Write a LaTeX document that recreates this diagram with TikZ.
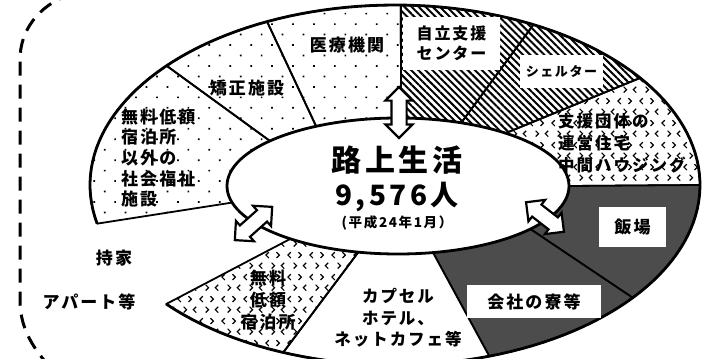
\documentclass[tikz,border=0pt]{standalone}
\usepackage{fontspec}
\newfontfamily\jpfont{Noto Sans CJK JP}[LetterSpace=12]
\usetikzlibrary{shapes.arrows, shapes.geometric, patterns, patterns.meta}

% small "<" and ">" marks used as fill
\pgfdeclarepatternformonly{chevrons}{\pgfqpoint{0pt}{0pt}}{\pgfqpoint{22pt}{22pt}}{\pgfqpoint{22pt}{22pt}}{%
  \pgfsetlinewidth{1.2pt}%
  \pgfpathmoveto{\pgfqpoint{5pt}{19.5pt}}\pgfpathlineto{\pgfqpoint{2pt}{16.5pt}}\pgfpathlineto{\pgfqpoint{5pt}{13.5pt}}%
  \pgfpathmoveto{\pgfqpoint{13pt}{19.5pt}}\pgfpathlineto{\pgfqpoint{16pt}{16.5pt}}\pgfpathlineto{\pgfqpoint{13pt}{13.5pt}}%
  \pgfpathmoveto{\pgfqpoint{8pt}{8.5pt}}\pgfpathlineto{\pgfqpoint{11pt}{5.5pt}}\pgfpathlineto{\pgfqpoint{8pt}{2.5pt}}%
  \pgfpathmoveto{\pgfqpoint{21pt}{8.5pt}}\pgfpathlineto{\pgfqpoint{18pt}{5.5pt}}\pgfpathlineto{\pgfqpoint{21pt}{2.5pt}}%
  \pgfusepath{stroke}%
}

\begin{document}
\begin{tikzpicture}[
    x=1pt, y=-1pt,
    font=\jpfont\bfseries,
    % Fill styles
    dotfill/.style={pattern={Dots[distance=14.8pt, angle=45, radius=1.2pt]}},
    hatchfill/.style={pattern={Lines[angle=-45, distance=5pt, line width=2pt]}},
    chevfill/.style={pattern=chevrons},
    darkfill/.style={fill=black!70},
    % Line styles
    sec_line/.style={draw=black, line width=1.8pt, line join=round},
    rim_line/.style={draw=black, line width=2.8pt},
    arc_pts/.style={variable=\t, samples=40},
    outline_dash/.style={line width=3pt, dash pattern=on 14pt off 9pt},
    % Text styles
    txt/.style={inner sep=0pt, align=center, font=\jpfont\bfseries\fontsize{17}{21}\selectfont},
    white_tag/.style={txt, fill=white},
    dbl_arrow/.style={
        double arrow, draw=black, fill=white, line width=2.2pt,
        minimum height=50pt, inner xsep=0pt, inner ysep=6.5pt,
        double arrow head extend=6pt
    }
]

\useasboundingbox (0,0) rectangle (702,359);

% --- Dashed outer boundary ---
\draw[outline_dash] (72,-6) .. controls (45,2) and (20,25) .. (20,60) -- (20,300)
    .. controls (20,325) and (30,345) .. (50,367);

% =================================================================
% RING OF SECTORS
% =================================================================

% --- welfare facilities (left) ---
\path[dotfill, sec_line] plot[arc_pts, domain=167.6:221.5] ({395+305*cos(\t)}, {185+180*sin(\t)})
    -- plot[arc_pts, domain=221.5:165.9] ({398+171*cos(\t)}, {186+68*sin(\t)}) -- cycle;
% --- prison ---
\path[dotfill, sec_line] plot[arc_pts, domain=221.5:245.2] ({395+305*cos(\t)}, {185+180*sin(\t)})
    -- plot[arc_pts, domain=241.4:221.5] ({398+171*cos(\t)}, {186+68*sin(\t)}) -- cycle;
% --- hospital ---
\path[dotfill, sec_line] plot[arc_pts, domain=245.2:271.1] ({395+305*cos(\t)}, {185+180*sin(\t)})
    -- plot[arc_pts, domain=271:241.4] ({398+171*cos(\t)}, {186+68*sin(\t)}) -- cycle;
% --- support centre ---
\path[hatchfill, sec_line] plot[arc_pts, domain=271.1:297] ({395+305*cos(\t)}, {185+180*sin(\t)})
    -- plot[arc_pts, domain=291.7:271] ({398+171*cos(\t)}, {186+68*sin(\t)}) -- cycle;
% --- shelter ---
\path[hatchfill, sec_line] plot[arc_pts, domain=297:323.5] ({395+305*cos(\t)}, {185+180*sin(\t)})
    -- plot[arc_pts, domain=309:291.7] ({398+171*cos(\t)}, {186+68*sin(\t)}) -- cycle;
% --- group housing ---
\path[chevfill, sec_line] plot[arc_pts, domain=323.5:360] ({395+305*cos(\t)}, {185+180*sin(\t)})
    -- plot[arc_pts, domain=360:309] ({398+171*cos(\t)}, {186+68*sin(\t)}) -- cycle;
% --- work camp ---
\path[darkfill, sec_line] plot[arc_pts, domain=360:398.8] ({395+305*cos(\t)}, {185+180*sin(\t)})
    -- plot[arc_pts, domain=399.3:360] ({398+171*cos(\t)}, {186+68*sin(\t)}) -- cycle;
% --- company dorm ---
\path[darkfill, sec_line] plot[arc_pts, domain=398.8:432] ({395+305*cos(\t)}, {185+180*sin(\t)})
    -- plot[arc_pts, domain=438.2:399.3] ({398+171*cos(\t)}, {186+68*sin(\t)}) -- cycle;
% --- capsule hotel ---
\path[fill=white, sec_line] plot[arc_pts, domain=432:471.5] ({395+305*cos(\t)}, {185+180*sin(\t)})
    -- plot[arc_pts, domain=463.4:438.2] ({398+171*cos(\t)}, {186+68*sin(\t)}) -- cycle;
% --- free lodging (bottom) ---
\path[chevfill, sec_line] plot[arc_pts, domain=471.5:498.6] ({395+305*cos(\t)}, {185+180*sin(\t)})
    -- plot[arc_pts, domain=489:463.4] ({398+171*cos(\t)}, {186+68*sin(\t)}) -- cycle;

% outer rim
\draw[rim_line] plot[arc_pts, samples=150, domain=167.6:498.6] ({395+305*cos(\t)}, {185+180*sin(\t)});

% --- Centre ellipse ---
\node[ellipse, draw=black, line width=2.8pt, fill=white, inner sep=0pt,
      minimum width=342pt, minimum height=136pt] (streetBox) at (398,186) {};
\node[txt, font=\jpfont\bfseries\fontsize{30}{32}\selectfont] (streetTitle) at (397,160) {路上生活};
\node[txt, font=\jpfont\bfseries\fontsize{28}{30}\selectfont] (streetCount) at (397,197) {9,576人};
\node[txt, font=\jpfont\bfseries\fontsize{13.5}{15}\selectfont] (streetDate) at (397,223) {(平成24年1月）};

% --- Sector labels ---
\node[txt, align=left, anchor=west, font=\jpfont\bfseries\fontsize{17}{20.7}\selectfont] (welfareLbl) at (121,158)
    {無料低額\\宿泊所\\以外の\\社会福祉\\施設};
\node[txt] (prisonLbl) at (247,88) {矯正施設};
\node[txt] (hospitalLbl) at (347,45) {医療機関};
\node[white_tag, minimum width=97pt, minimum height=53pt, font=\jpfont\bfseries\fontsize{16}{20}\selectfont]
    (centreLbl) at (451.5,43.5) {自立支援\\センター};
\node[white_tag, minimum width=83pt, minimum height=33pt, font=\jpfont\bfseries\fontsize{13}{15}\selectfont]
    (shelterLbl) at (561.5,71.5) {シェルター};
\node[txt, align=left, anchor=west, font=\jpfont\bfseries\fontsize{16.5}{22}\selectfont] (groupLbl) at (558,143)
    {支援団体の\\運営住宅\\中間ハウジング};
\node[white_tag, minimum width=67pt, minimum height=40pt] (campLbl) at (632.5,227) {飯場};
\node[white_tag, minimum width=134pt, minimum height=33pt] (dormLbl) at (534,301.5) {会社の寮等};
\node[txt, font=\jpfont\bfseries\fontsize{16.5}{21.5}\selectfont] (capsuleLbl) at (398,318)
    {カプセル\\ホテル、\\ネットカフェ等};
\node[txt, font=\jpfont\bfseries\fontsize{17}{22}\selectfont] (lodgingLbl) at (268,300) {無料\\低額\\宿泊所};
\node[txt] (homeLbl) at (114,258) {持家};
\node[txt] (flatLbl) at (89,302) {アパート等};

% --- Two-way arrows ---
\node[dbl_arrow, rotate=90, minimum height=51pt] (arrowUp) at (399,112.5) {};
\node[dbl_arrow, rotate=41.7] (arrowLeft) at (253.5,223.5) {};
\node[dbl_arrow, rotate=-37.9, minimum height=48pt] (arrowRight) at (545,217) {};

\end{tikzpicture}
\end{document}
